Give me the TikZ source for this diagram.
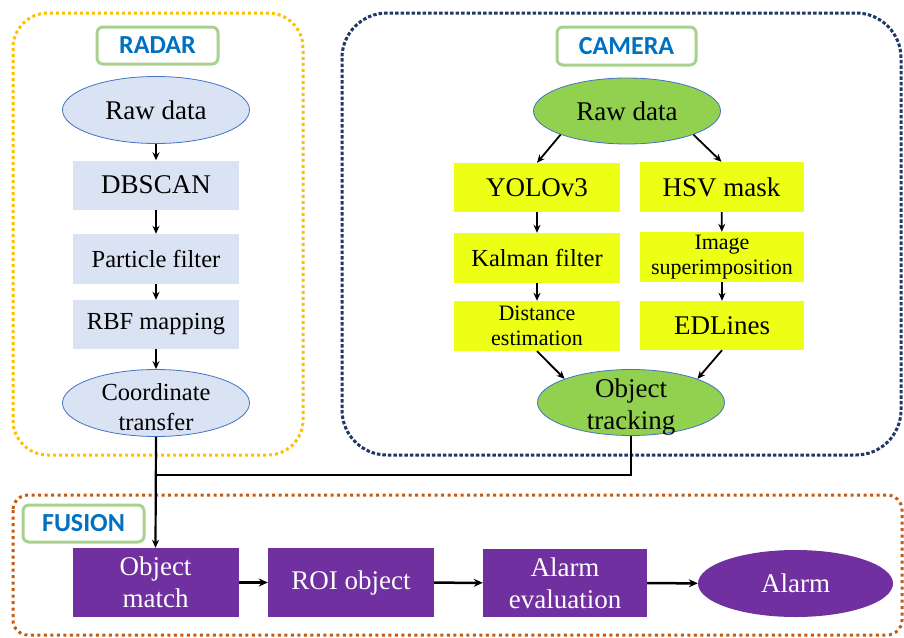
\documentclass[tikz,border=0pt]{standalone}
\usepackage{fontspec}
\setmainfont{Liberation Serif}
\newfontfamily\lblfont{Carlito}
\usetikzlibrary{shapes.geometric,arrows.meta}

\definecolor{radarfill}{RGB}{218,227,243}
\definecolor{ellborder}{RGB}{68,114,196}
\definecolor{camgreen}{RGB}{146,208,80}
\definecolor{camyellow}{RGB}{236,255,20}
\definecolor{fusepurple}{RGB}{112,48,160}
\definecolor{radardots}{RGB}{255,192,0}
\definecolor{camdots}{RGB}{31,56,100}
\definecolor{fusedots}{RGB}{197,90,17}
\definecolor{lblgreen}{RGB}{169,209,142}
\definecolor{lblblue}{RGB}{0,112,192}

\tikzset{
  big/.style={font=\fontsize{27}{32}\selectfont},
  mid/.style={font=\fontsize{24.5}{30}\selectfont},
  small/.style={font=\fontsize{22}{25.5}\selectfont},
  txt/.style={align=center, inner sep=0pt},
  rbox/.style={rectangle, fill=radarfill, inner sep=0pt, minimum width=166pt, minimum height=49pt, align=center},
  rell/.style={ellipse, fill=radarfill, draw=ellborder, line width=0.8pt, inner sep=0pt, minimum width=187pt, minimum height=67pt},
  ybox/.style={rectangle, fill=camyellow, inner sep=0pt, minimum width=166pt, minimum height=50pt, align=center},
  gell/.style={ellipse, fill=camgreen, draw=ellborder, line width=0.8pt, inner sep=0pt, minimum width=187pt, minimum height=66pt},
  pbox/.style={rectangle, fill=fusepurple, text=white, inner sep=0pt, minimum width=166pt, minimum height=69pt, align=center},
  pell/.style={ellipse, fill=fusepurple, inner sep=0pt, minimum width=195pt, minimum height=67pt},
  lbl/.style={rectangle, rounded corners=6pt, draw=lblgreen, line width=3pt, fill=white, text=lblblue,
    font=\lblfont\bfseries\fontsize{26}{30}\selectfont, inner sep=0pt},
  group/.style={line width=3pt, rounded corners=#1},
  arr/.style={-{Stealth[length=8pt,width=7pt]}, line width=1.8pt, black},
  farr/.style={-{Stealth[length=9pt,width=8pt]}, line width=2.5pt, black},
  link/.style={line width=2.2pt, black},
}

\begin{document}
\begin{tikzpicture}[x=1pt,y=-1pt]
\useasboundingbox (0,0) rectangle (904,637);

% group outlines
\draw[group=35pt, radardots, dash pattern=on 3pt off 3pt] (13,13) rectangle (303,455);
\draw[group=45pt, camdots, dash pattern=on 3.5pt off 2pt] (342,13) rectangle (901,455);
\draw[group=15pt, fusedots, dash pattern=on 3pt off 3.5pt] (13,495) rectangle (902,635);

% group titles
\node[lbl, minimum width=121pt, minimum height=37pt] (tradar) at (157.5,45.5) {RADAR};
\node[lbl, minimum width=139pt, minimum height=38pt] (tcamera) at (626.5,46) {CAMERA};
\node[lbl, minimum width=121pt, minimum height=37pt] (tfusion) at (83.5,523.5) {FUSION};

% radar pipeline
\node[rell] (rraw) at (156,110) {};
\node[txt, big] at (rraw) {Raw data};
\node[rbox, big] (rdb) at (156,185) {DBSCAN};
\node[rbox, mid, minimum height=50pt] (rpf) at (156,259) {Particle filter};
\node[rbox, mid] (rrbf) at (156,324.5) {RBF mapping};
\node[rell] (rcoord) at (156,403) {};
\node[txt, mid, yshift=-4pt] at (rcoord) {Coordinate\\transfer};

\draw[arr] (rraw) -- (rdb);
\draw[arr] (rdb) -- (rpf);
\draw[arr] (rpf) -- (rrbf);
\draw[arr] (rrbf) -- (rcoord);

% camera pipeline
\node[gell] (craw) at (627,111) {};
\node[txt, big] at (craw) {Raw data};
\node[ybox, big, minimum height=49pt] (cyolo) at (537,187.5) {YOLOv3};
\node[ybox, big, minimum width=164pt] (chsv) at (721.5,187) {HSV mask};
\node[ybox, mid] (ckal) at (537,258) {Kalman filter};
\node[ybox, small, minimum width=164pt] (cimg) at (722,257) {Image\\superimposition};
\node[ybox, small] (cdist) at (537,326) {Distance\\estimation};
\node[ybox, big, minimum width=164pt, minimum height=49pt] (cedl) at (722,325.5) {EDLines};
\node[gell] (ctrack) at (631,402.5) {};
\node[txt, big, yshift=-5pt] at (ctrack) {Object\\tracking};

\draw[arr] (craw.south west) -- (cyolo.north);
\draw[arr] (craw.south east) -- (chsv.north);
\draw[arr] (cyolo) -- (ckal);
\draw[arr] (ckal) -- (cdist);
\draw[arr] (chsv) -- (cimg);
\draw[arr] (cimg) -- (cedl);
\draw[arr] (cdist.south) -- (ctrack.north west);
\draw[arr] (cedl.south) -- (ctrack.north east);

% fusion pipeline
\node[pbox, big] (fmatch) at (155.5,582.5) {Object\\match};
\node[pbox, big] (froi) at (351,582.5) {ROI object};
\node[pbox, big, minimum width=164pt, minimum height=68pt] (feval) at (565,583) {Alarm\\evaluation};
\node[pell, text=white, big] (falarm) at (795.5,583.5) {Alarm};

\draw[farr] (fmatch) -- (froi);
\draw[farr] (froi) -- (feval);
\draw[farr] (feval) -- (falarm);

% sensor outputs into the fusion stage
\coordinate (join) at (rcoord.south |- 0,475);
\draw[arr, line width=2.2pt] (rcoord.south) -- (fmatch.north);
\draw[link] (ctrack.south) |- (join);
\end{tikzpicture}
\end{document}
